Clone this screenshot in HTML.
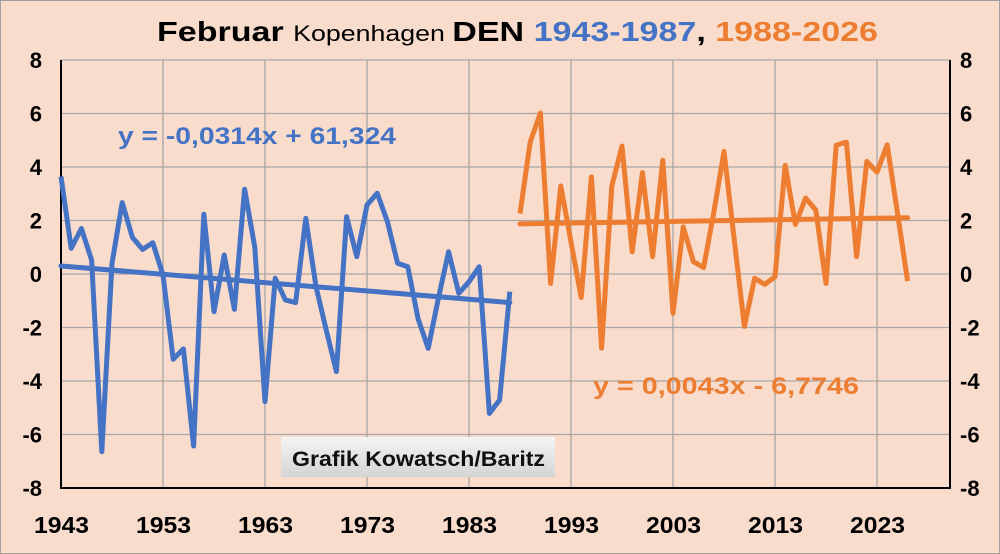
<!DOCTYPE html>
<html><head><meta charset="utf-8"><style>
html,body{margin:0;padding:0;background:#fadccd;}
svg{display:block;font-family:"Liberation Sans",sans-serif;font-weight:bold;}
</style></head><body>
<svg id="chart" width="1000" height="554" viewBox="0 0 1000 554">
<rect x="0" y="0" width="1000" height="554" fill="#fadccd" stroke="#a0a0a0" stroke-width="2"/>
<text x="157" y="41" font-size="28" fill="#000" textLength="721" lengthAdjust="spacingAndGlyphs"><tspan>Februar </tspan><tspan font-size="22" font-weight="normal">Kopenhagen </tspan><tspan>DEN </tspan><tspan fill="#4472c4">1943-1987</tspan><tspan>, </tspan><tspan fill="#ed7d31">1988-2026</tspan></text>
<g id="grid"></g>
<g id="axes"></g>
<g id="series"></g>
<text x="118" y="144" font-size="24" fill="#4472c4" textLength="278" lengthAdjust="spacingAndGlyphs">y = -0,0314x + 61,324</text>
<text x="593" y="394" font-size="24" fill="#ed7d31" textLength="266" lengthAdjust="spacingAndGlyphs">y = 0,0043x - 6,7746</text>
<defs><linearGradient id="lg" x1="0" y1="0" x2="0" y2="1"><stop offset="0" stop-color="#f4f4f4"/><stop offset="1" stop-color="#d4d4d4"/></linearGradient></defs>
<g>
<rect x="281" y="437" width="274" height="40" fill="url(#lg)"/>
<text x="292" y="466" font-size="21" fill="#111" textLength="253" lengthAdjust="spacingAndGlyphs">Grafik Kowatsch/Baritz</text>
</g>
</svg>
<script>
const years1 = [];for(let y=1943;y<=1987;y++)years1.push(y);
const blueValues = [3.64,0.96,1.7,0.52,-6.64,0.4,2.67,1.37,0.92,1.17,-0.04,-3.19,-2.8,-6.43,2.23,-1.41,0.71,-1.32,3.17,1.0,-4.77,-0.16,-0.97,-1.07,2.08,-0.47,-2.09,-3.65,2.14,0.65,2.58,3.02,1.96,0.4,0.27,-1.66,-2.78,-0.9,0.83,-0.72,-0.29,0.27,-5.21,-4.71,-0.66];
const years2 = [];for(let y=1988;y<=2026;y++)years2.push(y);
const orangeValues = [2.26,4.93,6.02,-0.35,3.29,1.2,-0.88,3.63,-2.77,3.29,4.78,0.83,3.79,0.65,4.25,-1.47,1.76,0.46,0.24,2.3,4.58,1.3,-1.96,-0.16,-0.39,-0.1,4.06,1.85,2.84,2.39,-0.35,4.81,4.93,0.65,4.21,3.81,4.83,2.3,-0.26];
const yTicks = [8,6,4,2,0,-2,-4,-6,-8];
const xTickLabels = [1943,1953,1963,1973,1983,1993,2003,2013,2023];

const NS="http://www.w3.org/2000/svg";
const L=61,R=950,T=60,B=488;
function X(yr){return 61+(yr-1943)*10.2;}
function Y(v){return 274-v*26.75;}
function mk(tag,attrs,parent){const e=document.createElementNS(NS,tag);for(const k in attrs)e.setAttribute(k,attrs[k]);parent.appendChild(e);return e;}
const grid=document.getElementById('grid'),axes=document.getElementById('axes'),series=document.getElementById('series');
yTicks.forEach(v=>{
  const l=mk('line',{x1:L,x2:R,y1:Y(v),y2:Y(v),stroke:'#a6a6a6','stroke-width':1.3},grid);
  
  
  const t=mk('text',{x:42,y:Y(v)+8,'font-size':22,'text-anchor':'end',fill:'#000'},axes);
  t.textContent=v;
  
  
  const t2=mk('text',{x:960,y:Y(v)+8,'font-size':22,'text-anchor':'start',fill:'#000'},axes);
  t2.textContent=v;
  
  
});
xTickLabels.forEach(yr=>{
  if(yr>1943){const l=mk('line',{x1:X(yr),x2:X(yr),y1:T,y2:B,stroke:'#a6a6a6','stroke-width':1.3},grid);
  
  }
  const t=mk('text',{x:X(yr)-27,y:533,'font-size':23,fill:'#000',textLength:55,lengthAdjust:'spacingAndGlyphs'},axes);
  t.textContent=yr;
  
  
});
const ax=mk('path',{d:`M${L},${T}V${B}H${R}V${T}`,fill:'none',stroke:'#000','stroke-width':2},axes);



function fit(xs,ys){const n=xs.length;let sx=0,sy=0,sxx=0,sxy=0;for(let i=0;i<n;i++){sx+=xs[i];sy+=ys[i];sxx+=xs[i]*xs[i];sxy+=xs[i]*ys[i];}const m=(n*sxy-sx*sy)/(n*sxx-sx*sx);return [m,(sy-m*sx)/n];}
function draw(xs,vs,color,name){
  const d=xs.map((yr,i)=>(i?'L':'M')+X(yr).toFixed(1)+','+Y(vs[i]).toFixed(1)).join('');
  const p=mk('path',{d:d,fill:'none',stroke:color,'stroke-width':5,'stroke-linejoin':'round'},series);
  
  
  const [m,b]=fit(xs,vs);const x0=xs[0],x1=xs[xs.length-1];
  const t=mk('line',{x1:X(x0),y1:Y(m*x0+b),x2:X(x1),y2:Y(m*x1+b),stroke:color,'stroke-width':5,'stroke-linecap':'round'},series);
  
  
}
draw(years1,blueValues,'#4472c4','blue-series');
draw(years2,orangeValues,'#ed7d31','orange-series');
</script>
</body></html>
